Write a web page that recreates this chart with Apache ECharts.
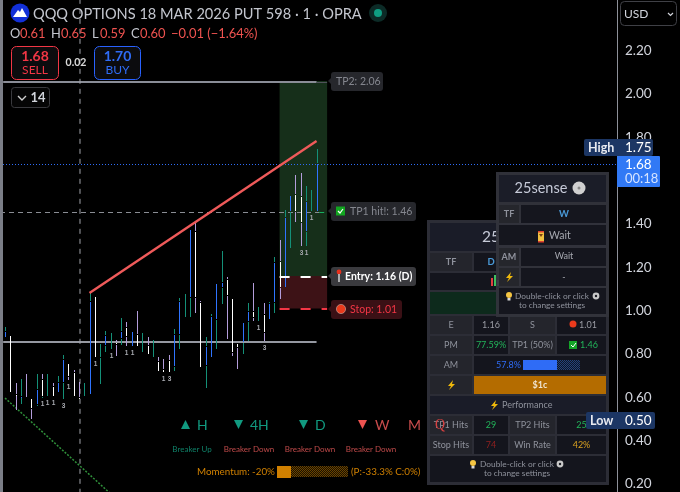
<!DOCTYPE html>
<html><head><meta charset="utf-8">
<style>html,body{margin:0;padding:0;background:#000}#c{width:680px;height:492px}</style>
<script src="https://cdn.jsdelivr.net/npm/echarts@6/dist/echarts.min.js"></script>
</head><body><div id="c"></div>
<script>
// ---- data (prices) ----
const candleStops = [
[.925,.902,.874],[.883,.620],[.666,.611,.606,.537],[.685,.602,.597,.565],[.708,.597],[.592,.546,.495],
[.708,.634,.565,.555],[.708,.680,.602,.597],[.708,.602],[.666,.648,.602],[.699,.666,.620],[.796,.772,.666,.588],
[.754,.694,.675],[.726,.712,.602],[.671,.597,.592],[.666,.602],[1.082,1.040,.611],[1.063,.782],
[.846,.782,.657],[.906,.883,.837,.805],[.897,.819],[.865,.851,.842,.786],[.966,.902,.869,.837],[.948,.920,.879,.832],
[.902,.832],[.999,.888,.832],[.897,.805],[.879,.837,.796],[.865,.782],[.786,.763,.717],
[.777,.726,.712],[.796,.768,.712],[.916,.888,.740,.717],[1.059,1.040,.888,.819],[1.077,.966],[1.373,1.059,.966],
[1.405,1.363,1.059,.985],[1.045,1.036,.736],[.879,.832,.745,.639],[.985,.971,.782],[1.123,.957,.819],[1.276,1.128,1.105,1.026],
[1.156,1.142,1.068,.865],[1.054,.805,.786],[.846,.828,.726],[.943,.851,.796],[1.036,.994,.948,.856],[1.128,.994,.966,.948],
[1.017,.948],[1.036,.980,.897,.856],[1.040,1.031,.957],[1.248,1.220,1.036,.985],[1.327,1.225,1.105,1.049],[1.465,1.428,1.105],
[1.530,1.456,1.285],[1.627,1.534,1.456,1.405],[1.636,1.525,1.405,1.294],[1.576,1.502,1.363,1.294],[1.557,1.456],[1.747,1.677,1.456]];
const candleColors = ['tb','w','lwl','tbt','l','wl','tbt','lwt','t','lw','tb','tbt','wl','lw','lw','t','tb','w',
'tt','tbt','t','lwl','tbt','lwl','b','lw','t','lw','t','lw','lw','lw','tbt','tbt','t','bt','lwl','lw','tbt','tb','bt','tbt',
'lwl','wl','wl','bt','tbt','lwl','t','lwl','tb','tbt','lwl','tb','bt','lwl','lwl','tbt','t','tb'];
const candleTags = {7:'1',8:'1',9:'1',11:'3',12:'1',17:'1',20:'1',23:'1',24:'1',30:'1',31:'3',48:'1',49:'3',56:'3',57:'1',58:'1'};
const palette = {t:'#149078',b:'#2f74ff',w:'#ffffff',l:'#b39ddb'};
const trendX = [16,59], trendY = [1.082,1.784];
const tp2 = 2.06, tp1 = 1.46, entry = 1.16, stop = 1.01, lastPrice = 1.68, supportLevel = 0.86;
const tradeStart = 52, tradeEnd = 61;
const sessionLineX = 14.2;
const dotX = [0,20], dotY = [0.597,0.155];
const yTicks = [2.2,2,1.8,1.6,1.4,1.2,1,.8,.6,.4,.2];
const levelTags = [
 {p:tp2,text:'TP2: 2.06',w:55,fill:'#26272c',color:'#85878f',weight:'normal'},
 {p:tp1,text:'TP1 hit!: 1.46',w:88,fill:'#26272c',color:'#85878f',weight:'normal',icon:'check'},
 {p:entry,text:'Entry: 1.16 (D)',w:88,fill:'#3a3a3e',color:'#ffffff',weight:'bold',icon:'pin'},
 {p:stop,text:'Stop: 1.01',w:74,fill:'#3a1015',color:'#f23645',weight:'normal',icon:'dot'}];

const FONT='Lato,"Open Sans",sans-serif';
function hatch(a,b){const cv=document.createElement('canvas');cv.width=2;cv.height=2;const x=cv.getContext('2d');x.fillStyle=b;x.fillRect(0,0,2,2);x.fillStyle=a;x.fillRect(0,0,1,1);x.fillRect(1,1,1,1);return {image:cv,repeat:'repeat'};}
const g=[];
function R(x,y,w,h,fill,o={}){g.push({type:'rect',z:o.z||50,shape:{x,y,width:w,height:h,r:o.r||0},style:{fill,stroke:o.stroke||null,lineWidth:o.lw||0,opacity:o.op==null?1:o.op},silent:true});}
function T(x,y,text,size,color,o={}){g.push({type:'text',z:o.z||51,x,y,style:{text,fill:color,font:(o.weight||'normal')+' '+size+'px '+(o.font||FONT),textAlign:o.align||'left',textVerticalAlign:'middle',opacity:o.op==null?1:o.op},silent:true});}
function C(cx,cy,r,fill,o={}){g.push({type:'circle',z:o.z||51,shape:{cx,cy,r},style:{fill,stroke:o.stroke||null,lineWidth:o.lw||0},silent:true});}
function P(pts,fill,o={}){g.push({type:'polygon',z:o.z||51,shape:{points:pts},style:{fill},silent:true});}
function bolt(x,y,z){P([[x+2,y-5],[x-3,y+1],[x,y+1],[x-2,y+5],[x+4,y-1],[x+1,y-1]],'#f0b90b',{z});}
function bulb(x,y,z){C(x,y-1,3,'#f5c542',{z});R(x-1.5,y+2,3,2.5,'#d8d8d8',{z});}
function gear(x,y,z){C(x,y,3.4,'#c8c8c8',{z,});C(x,y,1.2,'#1a1b22',{z});}

// left rule
R(0,0,3,492,'#7b7e87',{z:10});
// header
C(20,13,9.5,'#1230d8',{z:20});P([[13,17],[18,10],[20,12],[22,8],[27,17]],'#ffffff',{z:21});
T(33,14,'QQQ OPTIONS 18 MAR 2026 PUT 598 · 1 · OPRA',14.6,'#c3c6ce',{z:21});
C(378,13,9,'#0c2b27',{z:20});C(378,13,4,'#0f9d82',{z:21});
const ohlc=[['O',10,'#c3c6ce'],['0.61',20,'#ef5350'],['H',51,'#c3c6ce'],['0.65',61,'#ef5350'],['L',92,'#c3c6ce'],['0.59',100,'#ef5350'],['C',131,'#c3c6ce'],['0.60',140,'#ef5350'],['−0.01 (−1.64%)',171,'#ef5350']];
ohlc.forEach(a=>T(a[1],34,a[0],12.9,a[2],{z:21}));
R(11.5,46.5,47,33,'#0c0c0e',{stroke:'#f23645',lw:1,r:5,z:20});
T(35,56,'1.68',14,'#f23645',{align:'center',weight:'bold',z:21});T(35,70,'SELL',12,'#f23645',{align:'center',z:21});
T(76,63,'0.02',10.5,'#d8d8d8',{align:'center',weight:'bold',z:21});
R(94.5,46.5,46,33,'#0c0c0e',{stroke:'#2962ff',lw:1,r:5,z:20});
T(117.5,56,'1.70',14,'#2f6cf6',{align:'center',weight:'bold',z:21});T(117.5,70,'BUY',12,'#2f6cf6',{align:'center',z:21});
R(11.5,87.5,38,20,'#050505',{stroke:'#3a3a3e',lw:1,r:3,z:20});
g.push({type:'polyline',z:21,shape:{points:[[18,96],[22,100],[26,96]]},style:{stroke:'#d0d0d0',lineWidth:1.4,fill:null},silent:true});
T(38,98,'14',13,'#d0d3da',{align:'center',weight:'bold',z:21});
// USD button
R(620.5,1.5,56,24,'#000',{stroke:'#3f4046',lw:1,r:4,z:60});
T(624,14,'USD',12,'#d1d4dc',{z:61});
g.push({type:'polyline',z:61,shape:{points:[[668,13],[670.5,15.5],[673,13]]},style:{stroke:'#d1d4dc',lineWidth:1.2,fill:null},silent:true});

// breaker row
function tri(x,y,up,color){P(up?[[x,y+9],[x+9,y+9],[x+4.5,y]]:[[x,y],[x+9,y],[x+4.5,y+9]],color);}
const teal='#119a80',red='#ef5350';
tri(181,420,true,teal);T(197,425,'H',14,teal);
tri(234,420,false,teal);T(250,425,'4H',14,teal);
tri(299,420,false,teal);T(315,425,'D',14,teal);
tri(358,420,false,red);T(375,425,'W',14,'#c94c4c');
T(408,425,'M',14,'#c94c4c');
T(192,449.5,'Breaker Up',8,'#0f8068',{align:'center'});
T(249,449.5,'Breaker Down',8,'#c04a4a',{align:'center'});
T(310,449.5,'Breaker Down',8,'#c04a4a',{align:'center'});
T(371,449.5,'Breaker Down',8,'#c04a4a',{align:'center'});
const mo='#d08000';
T(197,472,'Momentum: -20%',9.8,mo);
R(277,466,14,12,'#d08000');R(291,466,57,11,hatch('#6a4400','#1a1000'));
T(351,472,'(P:-33.3% C:0%)',9.8,mo);

// back panel
const Z=60;
function cell(x,y,w,h,fill){R(x,y,w,h,fill,{z:Z});}
const cA='#24252c',cB='#14151d',cH='#1a1c28',tG='#8f929c';
R(427,220,182,265,'#2c2d36',{z:Z-1});
cell(430,223,176,28,cH);T(482,237,'25sense',15.5,'#c6cad8',{z:Z+1});
cell(430,253,42,18,cA);T(451,262,'TF',9,tG,{align:'center',weight:'bold',z:Z+1});
cell(474,253,132,18,cB);T(491,262,'D',9.5,'#4a9ad8',{align:'center',weight:'bold',z:Z+1});
cell(430,273,176,17,cB);
R(491,278,2,8,'#e04040',{z:Z+1});R(494,275,2,11,'#40c060',{z:Z+1});R(497,280,2,6,'#e0e0e0',{z:Z+1});
cell(430,292,176,22,'#0d2a1c');
function row4(y,a,b,c,d,cb,cd){
 cell(430,y,42,18,cA);cell(474,y,34,18,cB);cell(510,y,45,18,cA);cell(557,y,49,18,cB);
 T(451,y+9,a,9,tG,{align:'center',z:Z+1});T(491,y+9,b,9,cb,{align:'center',z:Z+1});
 T(532.5,y+9,c,9,tG,{align:'center',z:Z+1});T(d.x||581.5,y+9,d.t,9,cd,{align:'center',z:Z+1});
}
row4(316,'E','1.16','S',{t:'1.01',x:588},'#9a9ca4','#9a9ca4');C(573,324,3.5,'#ea3a1c',{z:Z+2});
row4(336,'PM','77.59%','TP1 (50%)',{t:'1.46',x:589},'#22b45a','#22b45a');
R(569,341,8,8,'#14a428',{z:Z+2});g.push({type:'polyline',z:Z+3,shape:{points:[[571,345],[573,347],[576,343]]},style:{stroke:'#fff',lineWidth:1,fill:null},silent:true});
cell(430,356,42,18,cA);cell(474,356,132,18,cB);T(451,365,'AM',9,tG,{align:'center',z:Z+1});
T(521,365,'57.8%',9,'#2f6cf6',{align:'right',z:Z+1,});
R(523,360,34,10,'#2f6cf6',{z:Z+1});R(557,360,23,10,hatch('#24427a','#0e1526'),{z:Z+1});
cell(430,376,42,18,cA);cell(474,376,132,18,'#b46c00');bolt(451,385,Z+1);T(540,385,'$1c',9,'#f0e4d0',{align:'center',weight:'bold',z:Z+1});
cell(430,396,176,18,cH);bolt(494,405,Z+1);T(502,405,'Performance',9,tG,{z:Z+1});
row4(416,'TP1 Hits','29','TP2 Hits',{t:'25'},'#22b45a','#22b45a');
T(440,425,'Q',14,'#d84040',{align:'center',z:Z+2,font:'"Liberation Serif",serif'});
row4(436,'Stop Hits','74','Win Rate',{t:'42%'},'#8f2020','#d8a020');
cell(430,456,176,26,cB);bulb(473,464,Z+1);T(517,464,'Double-click or click',8.3,tG,{align:'center',z:Z+1});gear(560,464,Z+1);
T(517,473,'to change settings',8.3,tG,{align:'center',z:Z+1});

// front panel
const Y=70;
R(496,172,113,145,'#33343c',{z:Y-1,op:.95});
function fc(x,y,w,h,fill){R(x,y,w,h,fill,{z:Y,op:.96});}
fc(499,175,107,27,cH);T(541,188,'25sense',14.5,'#c6cad8',{align:'center',z:Y+1});C(579,188,6.5,'#d0d0d0',{z:Y+1});C(579,188,1.5,'#888',{z:Y+2});
fc(499,205,20,18,cA);T(509,214,'TF',9,tG,{align:'center',weight:'bold',z:Y+1});
fc(521,205,85,18,cB);T(564,214,'W',9.5,'#4a9ad8',{align:'center',weight:'bold',z:Y+1});
fc(499,225,107,20,cB);
R(538,232,6,9,'#f0c040',{z:Y+1});R(538,231,6,1.5,'#e04030',{z:Y+2});R(538,241,6,1.5,'#e04030',{z:Y+2});P([[539,234],[543,234],[541,237]],'#7a4010',{z:Y+2});
T(549,235.5,'Wait',10.5,'#a6a8b0',{z:Y+1});
fc(499,248,20,18,cA);T(509,257,'AM',9,tG,{align:'center',weight:'bold',z:Y+1});
fc(521,248,85,18,cB);T(564,256.5,'Wait',9,'#a6a8b0',{align:'center',z:Y+1});
fc(499,268,20,18,cA);bolt(509,277,Y+1);
fc(521,268,85,18,cB);T(564,277,'-',9,'#a6a8b0',{align:'center',z:Y+1});
fc(499,288,107,26,cB);bulb(509,296,Y+1);T(552,296,'Double-click or click',8.3,tG,{align:'center',z:Y+1});gear(596,296,Y+1);
T(552,305,'to change settings',8.3,tG,{align:'center',z:Y+1});

// price labels on the axis
R(584,139,69,17,'#1c3664',{z:80,r:2});T(588,147.5,'High',12.5,'#e8eaf0',{z:81,weight:'bold'});T(625,147.5,'1.75',13.5,'#fff',{z:81});
R(617,156,43,31,'#3179f5',{z:80,r:1});T(625,165,'1.68',13.5,'#fff',{z:81});T(625,179,'00:18',13,'#d6e4ff',{z:81});
R(586,412,69,17,'#1c3664',{z:80,r:2});T(590,420.5,'Low',12.5,'#e8eaf0',{z:81,weight:'bold'});T(625,420.5,'0.50',13.5,'#fff',{z:81});

// crisp horizontal level: drawn through the axis scales, snapped to the pixel row
function hline(p,x0,x1,color,width,type,z){return {type:'custom',silent:true,z:z||3,encode:{x:[0,1],y:2},data:[[x0,x1,p]],
 renderItem:(params,api)=>{const a=api.coord([api.value(0),api.value(2)]),b=api.coord([api.value(1),api.value(2)]);
  const y=Math.floor(a[1])+(width===1?1.5:1);
  return {type:'line',shape:{x1:a[0],y1:y,x2:b[0],y2:y},style:{stroke:color,lineWidth:width,lineDash:type||null}};}};}
const X0=-0.95,X1=115.9;
const option={
 animation:false,backgroundColor:'#000',
 grid:{left:0,top:-35.84,width:617,height:563.16,outerBoundsMode:'none',containLabel:false},
 xAxis:{type:'value',min:X0,max:X1,show:false},
 yAxis:{type:'value',position:'right',min:0,max:2.6,interval:0.2,
  axisLine:{show:true,onZero:false,lineStyle:{color:'#8d9099',width:1}},axisTick:{show:false},splitLine:{show:false},
  axisLabel:{margin:8,color:'#d1d4dc',fontSize:13.5,fontFamily:FONT,formatter:v=>yTicks.some(t=>Math.abs(t-v)<1e-6)?v.toFixed(2):''}},
 graphic:{elements:g},
 series:[
  {type:'custom',z:1,silent:true,renderItem:(p,api)=>{const a=api.coord([api.value(0),api.value(3)]),b=api.coord([api.value(1),api.value(2)]);
    return {type:'rect',shape:{x:a[0],y:a[1],width:b[0]-a[0],height:b[1]-a[1]},style:{fill:api.value(4)===1?'#162f1a':'#3d1216'}};},
   encode:{x:[0,1],y:[2,3]},data:[[tradeStart,tradeEnd,entry,tp2,1],[tradeStart,tradeEnd,stop,entry,0]]},
  hline(lastPrice,X0,X1,'#2f6cf6',1,[1,2]),
  hline(tp1,X0,59.5,'#8a8d94',1,[5,4]),
  hline(tp1,59.5,tradeEnd,'#18b060',1,[5,4]),
  hline(tp2,X0+0.6,59,'#8a8d97',2),
  hline(tp2,59,tradeEnd,'#50525a',1),
  hline(supportLevel,X0+0.6,59,'#9598a1',2),
  {type:'line',silent:true,symbol:'none',z:3,clip:false,data:[[sessionLineX,2.44],[sessionLineX,0.16]],lineStyle:{color:'#a0a3aa',width:1,type:[5,5]}},
  {type:'line',silent:true,symbol:'none',z:3,data:dotX.map((x,i)=>[x,dotY[i]]),lineStyle:{color:'#2f8f3a',width:1.5,type:[2,1.5]}},
  {type:'custom',z:5,silent:true,renderItem:(params,api)=>{const i=params.dataIndex;const st=candleStops[i],col=candleColors[i];const ch=[];
     const xx=Math.round(api.coord([i,0])[0]);
     for(let k=0;k<st.length-1;k++){const y0=api.coord([i,st[k]])[1],y1=api.coord([i,st[k+1]])[1];
       ch.push({type:'rect',shape:{x:xx,y:Math.round(y0),width:1,height:Math.max(1,Math.round(y1-y0)-1)},style:{fill:palette[col[k]]||palette[col[0]]}});}
     if(candleTags[i]){const ylo=api.coord([i,st[st.length-1]])[1];ch.push({type:'text',x:xx+0.5,y:ylo+6,style:{text:candleTags[i],fill:'#a8aab0',font:'bold 6.5px sans-serif',textAlign:'center',textVerticalAlign:'middle'}});}
     return {type:'group',children:ch};},
   encode:{x:0,y:1},data:candleStops.map((s,i)=>[i,s[0]])},
  {type:'line',silent:true,symbol:'none',z:6,data:trendX.map((x,i)=>[x,trendY[i]]),lineStyle:{color:'#ef5a5a',width:2.4}},
  hline(entry,tradeStart,tradeEnd,'#ffffff',2,[10,11],7),
  hline(stop,tradeStart,tradeEnd,'#f23645',2,[10,11],7),
  {type:'custom',z:8,silent:true,renderItem:(params,api)=>{const t=levelTags[params.dataIndex];const c=api.coord([tradeEnd,t.p]);const x=Math.round(c[0])+1,y=Math.round(c[1]);const ch=[];
     ch.push({type:'polygon',shape:{points:[[x,y],[x+5,y-5],[x+5,y+5]]},style:{fill:t.fill}});
     ch.push({type:'rect',shape:{x:x+3,y:y-9,width:t.w-3,height:19,r:3},style:{fill:t.fill}});
     let tx=x+8;
     if(t.icon==='check'){ch.push({type:'rect',shape:{x:x+8,y:y-4.5,width:9,height:9},style:{fill:'#12a520'}});ch.push({type:'polyline',shape:{points:[[x+10,y],[x+12,y+2],[x+15,y-2]]},style:{stroke:'#fff',lineWidth:1.2,fill:null}});tx=x+22;}
     if(t.icon==='pin'){ch.push({type:'circle',shape:{cx:x+11,cy:y-4,r:2.4},style:{fill:'#e8301c'}});ch.push({type:'rect',shape:{x:x+10.3,y:y-2,width:1.4,height:8},style:{fill:'#ddd'}});tx=x+17;}
     if(t.icon==='dot'){ch.push({type:'circle',shape:{cx:x+13,cy:y,r:4.6},style:{fill:'#ea3a1c',stroke:'#c9b0a8',lineWidth:.6}});tx=x+22;}
     ch.push({type:'text',x:tx,y:y+.5,style:{text:t.text,fill:t.color,font:t.weight+' 10.5px '+FONT,textAlign:'left',textVerticalAlign:'middle'}});
     return {type:'group',children:ch};},
   encode:{x:0,y:1},data:levelTags.map(t=>[tradeEnd,t.p])}
 ]};
const chart=echarts.init(document.getElementById('c'),null,{renderer:'canvas',width:680,height:492});
chart.setOption(option);
</script></body></html>
